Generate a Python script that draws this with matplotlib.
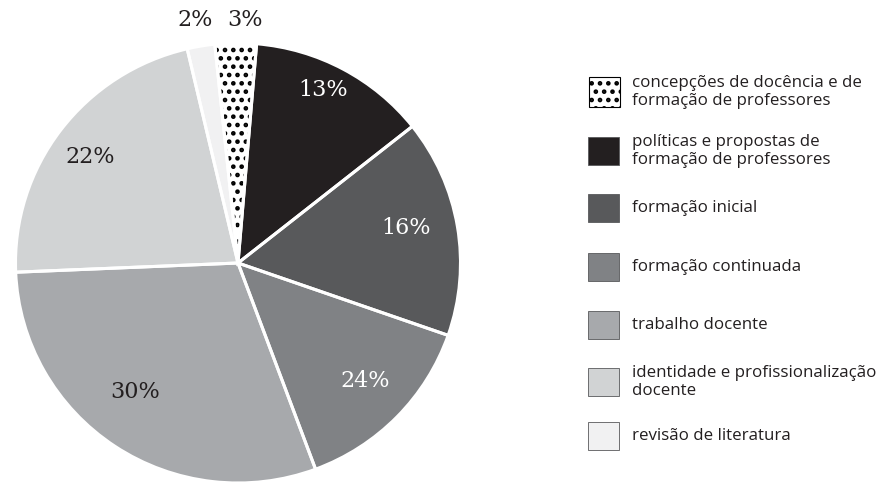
import numpy as np
import matplotlib
matplotlib.use('Agg')
import matplotlib.pyplot as plt
from matplotlib.patches import Rectangle

# Data (slice sizes in %, clockwise from the top)
categories = ['concepções de docência e de\nformação de professores',
              'políticas e propostas de\nformação de professores',
              'formação inicial',
              'formação continuada',
              'trabalho docente',
              'identidade e profissionalização\ndocente',
              'revisão de literatura']
values = [3, 13, 16, 14, 30, 22, 2]
value_labels = ['3%', '13%', '16%', '24%', '30%', '22%', '2%']

colors = ['#ffffff', '#231f20', '#58595b', '#808285', '#a7a9ac', '#d1d3d4', '#f1f1f2']
label_colors = ['#231f20', 'white', 'white', 'white', '#231f20', '#231f20', '#231f20']
label_r = [1.105, 0.874, 0.772, 0.783, 0.747, 0.821, 1.12]
label_shift = [-2.3, 2.3, 2.3, 1.2, -4.7, 1.3, 0.3]

plt.rcParams['hatch.linewidth'] = 2.1

fig = plt.figure(figsize=(8.86, 4.83), dpi=100)
ax = fig.add_axes([15.5 / 886, 0, 445 / 886, 440 / 483])

wedges, _ = ax.pie(values, colors=colors, startangle=96, counterclock=False,
                   radius=1, wedgeprops=dict(linewidth=0))
# dotted slice: black hatch
wedges[0].set_hatch('..')
wedges[0].set_edgecolor('black')
wedges[0].set_linewidth(0)

# white separators on top
ax.pie(values, colors=['none'] * len(values), startangle=96, counterclock=False,
       radius=1, wedgeprops=dict(linewidth=2.2, edgecolor='white', fill=False))

for w, lab, c, r, dt in zip(wedges, value_labels, label_colors, label_r, label_shift):
    ang = np.deg2rad((w.theta1 + w.theta2) / 2 + dt)
    ax.text(r * np.cos(ang), r * np.sin(ang), lab, color=c, fontsize=16,
            family='DejaVu Serif', ha='center', va='center')

ax.set_aspect('auto')
ax.set_xlim(-1, 1)
ax.set_ylim(-1, 1)
ax.axis('off')

# legend drawn in pixel space
box_y = [92, 151, 208, 267, 325, 382, 436]
for i, (cat, col) in enumerate(zip(categories, colors)):
    yc = 483 - box_y[i]
    if i == 0:
        rect = Rectangle((589 / 886, (yc - 15) / 483), 31 / 886, 30 / 483,
                         transform=fig.transFigure, facecolor='white',
                         edgecolor='black', hatch='..', linewidth=0.8)
    else:
        rect = Rectangle((588 / 886, (yc - 14) / 483), 31 / 886, 28 / 483,
                         transform=fig.transFigure, facecolor=col,
                         edgecolor='#58595b', linewidth=0.6)
    fig.patches.append(rect)
    fig.text(632 / 886, yc / 483, cat, fontsize=12.2, family='Open Sans',
             color='#231f20', ha='left', va='center', linespacing=1.1)

plt.savefig('out.png', dpi=100)
